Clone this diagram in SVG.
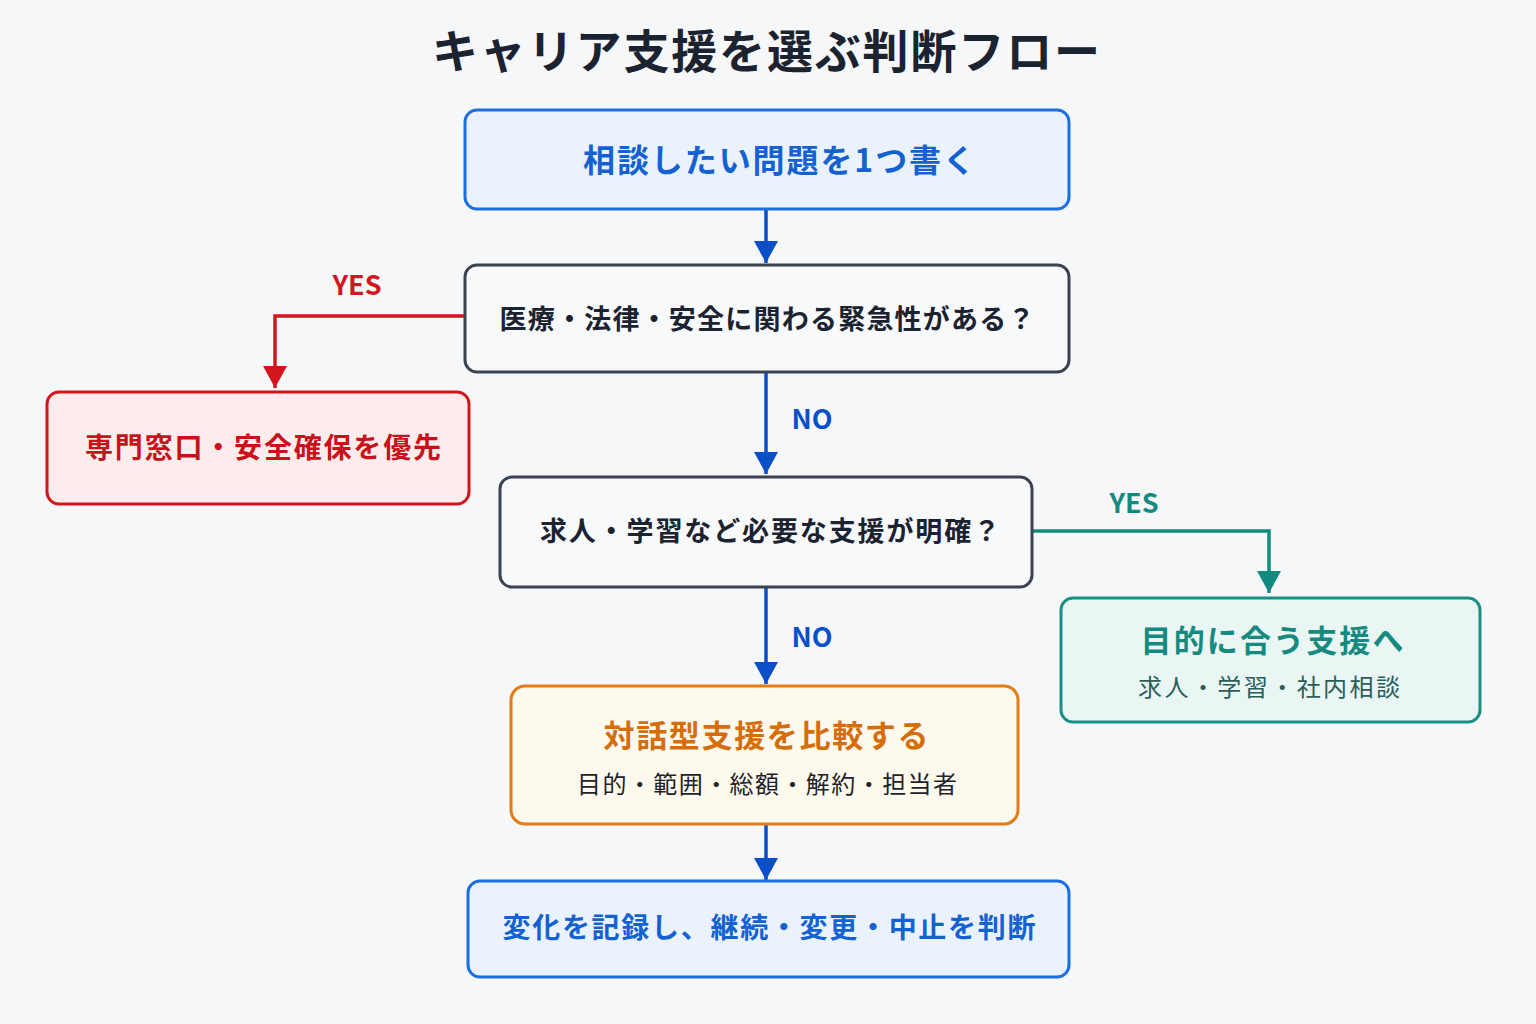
<svg xmlns="http://www.w3.org/2000/svg" width="1536" height="1024" viewBox="0 0 1536 1024">
<style>
text{font-family:"Noto Sans CJK JP","Noto Sans",sans-serif;text-anchor:middle;dominant-baseline:central}
.b{font-weight:700}
.box{stroke-width:3}
.blue{fill:#eaf3fd;stroke:#1d6fe0}
.gray{fill:#f8f9fb;stroke:#3b4350}
.red{fill:#fdecec;stroke:#d3161e}
.teal{fill:#e9f6f4;stroke:#1a9084}
.orange{fill:#fef9ed;stroke:#e27c15}
.ln{fill:none;stroke-width:3.5}
</style>
<defs>
<marker id="ab" viewBox="0 0 24 22" refX="12" refY="22" markerWidth="24" markerHeight="22" markerUnits="userSpaceOnUse"><path d="M0 0H24L12 22Z" fill="#0b4fc8"/></marker>
<marker id="ar" viewBox="0 0 24 22" refX="12" refY="22" markerWidth="24" markerHeight="22" markerUnits="userSpaceOnUse"><path d="M0 0H24L12 22Z" fill="#d3161e"/></marker>
<marker id="at" viewBox="0 0 24 22" refX="12" refY="22" markerWidth="24" markerHeight="22" markerUnits="userSpaceOnUse"><path d="M0 0H24L12 22Z" fill="#138a80"/></marker>
</defs>
<rect width="1536" height="1024" fill="#f6f7f9"/>
<text x="766" y="48" class="b" font-size="46" fill="#1b2230" textLength="668" lengthAdjust="spacing">キャリア支援を選ぶ判断フロー</text>

<g id="connectors">
<line x1="766" y1="210" x2="766" y2="263" class="ln" stroke="#0b4fc8" marker-end="url(#ab)"/>
<polyline points="465,316 275,316 275,388" class="ln" stroke="#d3161e" stroke-width="3" marker-end="url(#ar)"/>
<text x="357" y="283" class="b" font-size="27" fill="#d3161e">YES</text>
<line x1="766" y1="373" x2="766" y2="474" class="ln" stroke="#0b4fc8" marker-end="url(#ab)"/>
<text x="812" y="417" class="b" font-size="27" fill="#0b4fc8">NO</text>
<polyline points="1032,531 1269,531 1269,593" class="ln" stroke="#138a80" stroke-width="3" marker-end="url(#at)"/>
<text x="1134" y="501" class="b" font-size="27" fill="#138a80">YES</text>
<line x1="766" y1="588" x2="766" y2="684" class="ln" stroke="#0b4fc8" marker-end="url(#ab)"/>
<text x="812" y="635" class="b" font-size="27" fill="#0b4fc8">NO</text>
<line x1="766" y1="825" x2="766" y2="880" class="ln" stroke="#0b4fc8" marker-end="url(#ab)"/>
</g>

<g id="n1">
<rect x="465" y="110" width="604" height="99" rx="12" class="box blue"/>
<text x="779" y="158" class="b" font-size="32" fill="#1462d2" textLength="392" lengthAdjust="spacing">相談したい問題を1つ書く</text>
</g>
<g id="n2">
<rect x="465" y="265" width="604" height="107" rx="12" class="box gray"/>
<text x="767" y="317" class="b" font-size="27" fill="#1b2230" textLength="535" lengthAdjust="spacing">医療・法律・安全に関わる緊急性がある？</text>
</g>
<g id="n3">
<rect x="47" y="392" width="422" height="112" rx="12" class="box red"/>
<text x="263" y="446" class="b" font-size="28" fill="#c9111b" textLength="356" lengthAdjust="spacing">専門窓口・安全確保を優先</text>
</g>
<g id="n4">
<rect x="500" y="477" width="532" height="110" rx="12" class="box gray"/>
<text x="770" y="529" class="b" font-size="27" fill="#1b2230" textLength="460" lengthAdjust="spacing">求人・学習など必要な支援が明確？</text>
</g>
<g id="n5">
<rect x="1061" y="598" width="419" height="124" rx="12" class="box teal"/>
<text x="1272" y="638" class="b" font-size="31" fill="#168a7f" textLength="263" lengthAdjust="spacing">目的に合う支援へ</text>
<text x="1269" y="685" font-size="24" fill="#2a5e5a" textLength="262" lengthAdjust="spacing">求人・学習・社内相談</text>
</g>
<g id="n6">
<rect x="511" y="686" width="507" height="138" rx="14" class="box orange"/>
<text x="766" y="733" class="b" font-size="31" fill="#d56d0b" textLength="325" lengthAdjust="spacing">対話型支援を比較する</text>
<text x="767" y="782" font-size="24" fill="#1f2328" textLength="380" lengthAdjust="spacing">目的・範囲・総額・解約・担当者</text>
</g>
<g id="n7">
<rect x="468" y="881" width="601" height="96" rx="12" class="box blue"/>
<text x="769" y="926" class="b" font-size="28" fill="#1462d2" textLength="533" lengthAdjust="spacing">変化を記録し、継続・変更・中止を判断</text>
</g>
</svg>
